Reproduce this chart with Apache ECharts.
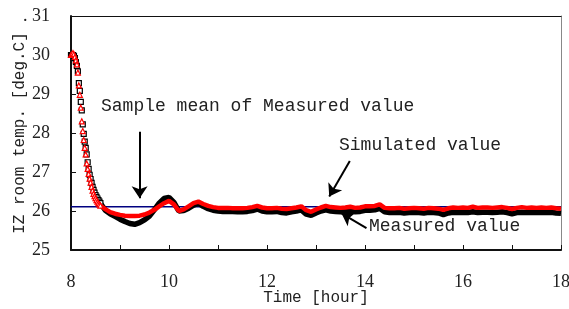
<!DOCTYPE html>
<html>
<head>
<meta charset="utf-8">
<script src="https://cdn.jsdelivr.net/npm/echarts@6/dist/echarts.min.js"></script>
<style>
  html, body { margin: 0; padding: 0; background: #fff; }
  #iz-temp { width: 569px; height: 309px; }
</style>
</head>
<body>
<div id="iz-temp"></div>
<script>
// time axis [hour]
const timeHours = [
  8.00, 8.02, 8.04, 8.06, 8.08, 8.10, 8.12, 8.14, 8.16, 8.18,
  8.20, 8.22, 8.24, 8.26, 8.28, 8.30, 8.32, 8.34, 8.36, 8.38,
  8.40, 8.42, 8.44, 8.46, 8.48, 8.50, 8.52, 8.54, 8.56, 8.58, 8.60,
  8.7, 8.8, 8.9, 9.0, 9.1, 9.2, 9.3, 9.4, 9.5, 9.6, 9.7, 9.8, 9.9,
  10.0, 10.1, 10.2, 10.3, 10.4, 10.5, 10.6, 10.7, 10.8, 10.9,
  11.0, 11.1, 11.2, 11.3, 11.4, 11.5, 11.6, 11.7, 11.8, 11.9,
  12.0, 12.1, 12.2, 12.3, 12.4, 12.5, 12.6, 12.7, 12.8, 12.9,
  13.0, 13.1, 13.2, 13.3, 13.4, 13.5, 13.6, 13.7, 13.8, 13.9,
  14.0, 14.1, 14.2, 14.3, 14.4, 14.5, 14.6, 14.7, 14.8, 14.9,
  15.0, 15.1, 15.2, 15.3, 15.4, 15.5, 15.6, 15.7, 15.8, 15.9,
  16.0, 16.1, 16.2, 16.3, 16.4, 16.5, 16.6, 16.7, 16.8, 16.9,
  17.0, 17.1, 17.2, 17.3, 17.4, 17.5, 17.6, 17.7, 17.8, 17.9,
  18.0,
];

// measured IZ room temp [deg.C]
const measuredValues = [
  30.00, 30.00, 30.00, 29.98, 29.92, 29.82, 29.72, 29.58, 29.28, 29.08,
  28.80, 28.58, 28.22, 27.98, 27.78, 27.62, 27.45, 27.25, 27.08, 26.93,
  26.82, 26.72, 26.62, 26.54, 26.47, 26.41, 26.36, 26.32, 26.28, 26.24, 26.20,
  26.02, 25.93, 25.86, 25.79, 25.73, 25.68, 25.66, 25.70, 25.77, 25.87, 26.03, 26.20, 26.32,
  26.35, 26.22, 26.00, 26.01, 26.07, 26.15, 26.20, 26.12, 26.06, 26.02,
  26.00, 25.99, 25.99, 25.99, 25.98, 25.98, 25.99, 26.01, 26.05, 26.00,
  25.98, 25.98, 25.99, 25.96, 25.95, 25.98, 26.00, 26.03, 25.92, 25.89,
  25.95, 26.00, 26.03, 26.00, 25.99, 25.98, 26.00, 26.01, 25.98, 25.99,
  26.02, 26.02, 26.03, 26.07, 25.98, 25.96, 25.96, 25.97, 25.95, 25.96,
  25.97, 25.96, 25.95, 25.97, 25.96, 25.95, 25.91, 25.95, 25.97, 25.96,
  25.97, 25.96, 25.98, 25.96, 25.97, 25.97, 25.96, 25.97, 25.98, 25.96,
  25.93, 25.96, 25.97, 25.96, 25.97, 25.96, 25.97, 25.96, 25.97, 25.95,
  25.94,
];

// simulated IZ room temp [deg.C]
const simulatedValues = [
  30.00, 30.02, 30.05, 30.02, 29.95, 29.86, 29.76, 29.55, 29.22, 28.98,
  28.65, 28.30, 28.05, 27.82, 27.62, 27.45, 27.22, 27.08, 26.95, 26.83,
  26.73, 26.62, 26.52, 26.44, 26.38, 26.33, 26.28, 26.24, 26.20, 26.17, 26.14,
  26.05, 25.97, 25.93, 25.90, 25.88, 25.87, 25.87, 25.88, 25.91, 25.96, 26.03, 26.12, 26.20,
  26.26, 26.17, 26.00, 26.04, 26.12, 26.20, 26.24, 26.18, 26.13, 26.10,
  26.08, 26.08, 26.08, 26.07, 26.07, 26.07, 26.08, 26.10, 26.13, 26.09,
  26.07, 26.07, 26.08, 26.06, 26.05, 26.07, 26.09, 26.12, 26.02, 25.98,
  26.04, 26.09, 26.13, 26.10, 26.09, 26.08, 26.09, 26.11, 26.08, 26.09,
  26.12, 26.12, 26.13, 26.17, 26.08, 26.07, 26.07, 26.08, 26.06, 26.07,
  26.08, 26.07, 26.06, 26.08, 26.07, 26.06, 26.03, 26.07, 26.09, 26.08,
  26.09, 26.08, 26.11, 26.08, 26.09, 26.09, 26.08, 26.09, 26.10, 26.08,
  26.05, 26.08, 26.10, 26.08, 26.09, 26.08, 26.09, 26.08, 26.09, 26.07,
  26.06,
];

// sample mean of measured value
const meanValue = 26.11;
const meanSpan = [8, 18];

const xTicks = [8, 10, 12, 14, 16, 18];
const yTicks = [25, 26, 27, 28, 29, 30, 31];

// points before this hour are drawn as loose markers, after it as a dense band
const bandStart = 8.55;

const monoFont = '"Liberation Mono", "DejaVu Sans Mono", monospace';
const serifFont = '"Liberation Serif", "DejaVu Serif", serif';

const pairs = (vals) => timeHours.map((t, i) => [t, vals[i]]);
const head = (vals) => pairs(vals).filter((p) => p[0] <= bandStart + 0.05);
const tail = (vals) => pairs(vals).filter((p) => p[0] >= bandStart);

const chart = echarts.init(document.getElementById('iz-temp'));

const option = {
  animation: false,
  backgroundColor: '#fff',
  grid: { left: 71, right: 8, top: 16, bottom: 59, containLabel: false, outerBoundsMode: 'none' },
  xAxis: [
    {
      type: 'value',
      min: 8,
      max: 18,
      interval: 1,
      name: 'Time [hour]',
      nameLocation: 'middle',
      nameGap: 40,
      nameMoveOverlap: false,
      nameTextStyle: { fontFamily: monoFont, fontSize: 16, color: '#222' },
      axisLine: { lineStyle: { color: '#111', width: 2 } },
      axisTick: { inside: true, length: 5, lineStyle: { color: '#111', width: 1 } },
      axisLabel: {
        margin: 23,
        fontFamily: serifFont,
        fontSize: 18,
        color: '#222',
        formatter: (v) => (xTicks.indexOf(v) >= 0 ? String(v) : ''),
      },
      splitLine: { show: false },
    },
    {
      type: 'value',
      position: 'top',
      min: 8,
      max: 18,
      axisLine: { show: true, onZero: false, lineStyle: { color: '#111', width: 1 } },
      axisTick: { show: false },
      axisLabel: { show: false },
      splitLine: { show: false },
    },
  ],
  yAxis: [
    {
      type: 'value',
      min: 25,
      max: 31,
      interval: 1,
      name: 'IZ room temp. [deg.C]',
      nameLocation: 'middle',
      nameRotate: 90,
      nameGap: 43,
      nameMoveOverlap: false,
      nameTextStyle: { fontFamily: monoFont, fontSize: 16, color: '#222' },
      axisLine: { show: true, lineStyle: { color: '#111', width: 2 } },
      axisTick: { show: true, inside: true, length: 5, lineStyle: { color: '#111', width: 1 } },
      axisLabel: {
        margin: 21,
        fontFamily: serifFont,
        fontSize: 18,
        color: '#222',
        formatter: (v) => (v === yTicks[yTicks.length - 1] ? '. ' + v : String(v)),
      },
      splitLine: { show: false },
    },
    {
      type: 'value',
      position: 'right',
      min: 25,
      max: 31,
      axisLine: { show: true, onZero: false, lineStyle: { color: '#888', width: 1 } },
      axisTick: { show: false },
      axisLabel: { show: false },
      splitLine: { show: false },
    },
  ],
  series: [
    {
      name: 'Sample mean of Measured value',
      type: 'line',
      data: meanSpan.map((t) => [t, meanValue]),
      showSymbol: false,
      lineStyle: { color: '#000080', width: 1.5 },
      z: 1,
      markLine: {
        silent: true,
        symbol: ['none', 'arrow'],
        symbolSize: 12,
        label: { show: false },
        lineStyle: { color: '#000', width: 2, type: 'solid' },
        data: [
          [{ coord: [9.40, 28.03] }, { coord: [9.40, 26.33] }],
          [{ coord: [13.69, 27.28] }, { coord: [13.27, 26.37] }],
          [{ coord: [14.03, 25.56] }, { coord: [13.52, 25.94] }],
        ],
      },
    },
    {
      name: 'Measured value',
      type: 'line',
      data: tail(measuredValues),
      showSymbol: false,
      lineStyle: { color: '#000', width: 5.5 },
      z: 2,
    },
    {
      name: 'Measured value',
      type: 'scatter',
      data: head(measuredValues),
      symbol: 'rect',
      symbolSize: 5,
      itemStyle: { color: '#fff', borderColor: '#000', borderWidth: 1.2, opacity: 1 },
      z: 2,
    },
    {
      name: 'Simulated value',
      type: 'line',
      data: tail(simulatedValues),
      showSymbol: false,
      lineStyle: { color: '#ff0000', width: 4.5 },
      z: 3,
    },
    {
      name: 'Simulated value',
      type: 'scatter',
      data: head(simulatedValues),
      symbol: 'triangle',
      symbolSize: 5,
      itemStyle: { color: '#fff', borderColor: '#ff0000', borderWidth: 1.2, opacity: 1 },
      z: 3,
    },
  ],
  graphic: [
    {
      type: 'text',
      left: 101,
      top: 97,
      style: { text: 'Sample mean of Measured value', font: '18px ' + monoFont, fill: '#222' },
    },
    {
      type: 'text',
      left: 339,
      top: 136,
      style: { text: 'Simulated value', font: '18px ' + monoFont, fill: '#222' },
    },
    {
      type: 'text',
      left: 369,
      top: 217,
      style: { text: 'Measured value', font: '18px ' + monoFont, fill: '#222' },
    },
  ],
};

chart.setOption(option);
</script>
</body>
</html>
